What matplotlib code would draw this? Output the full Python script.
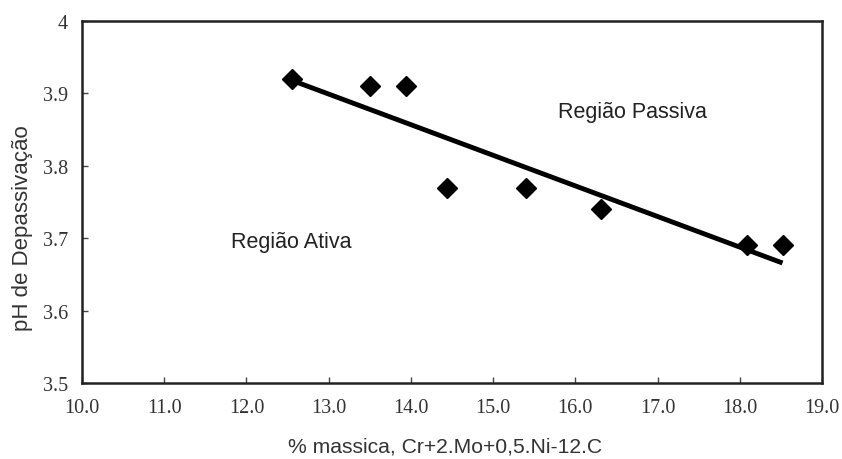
import numpy as np
import matplotlib
matplotlib.use("Agg")
import matplotlib.pyplot as plt

x_vals = [12.55, 13.50, 13.94, 14.44, 15.40, 16.31, 18.09, 18.52]
ph_vals = [3.92, 3.91, 3.91, 3.77, 3.77, 3.74, 3.69, 3.69]
x_ticks = [10.0, 11.0, 12.0, 13.0, 14.0, 15.0, 16.0, 17.0, 18.0, 19.0]
y_ticks = [3.5, 3.6, 3.7, 3.8, 3.9, 4.0]
y_tick_labels = ["3.5", "3.6", "3.7", "3.8", "3.9", "4"]

fig = plt.figure(figsize=(8.42, 4.6), dpi=100)
ax = fig.add_axes([82/842, 1-384/460, (822-82)/842, (384-22)/460])

coef = np.polyfit(x_vals, ph_vals, 1)
xl = np.array([min(x_vals), max(x_vals)])
ax.plot(xl, np.polyval(coef, xl), color="black", lw=3.5, solid_capstyle="butt")
ax.plot(x_vals, ph_vals, linestyle="none", marker="D", color="black", markersize=10.5)

ax.set_xlim(10, 19)
ax.set_ylim(3.5, 4.0)
ax.set_xticks(x_ticks)
ax.set_xticklabels([f"{v:.1f}" for v in x_ticks], family="Liberation Serif", fontsize=14.5)
ax.set_yticks(y_ticks)
ax.set_yticklabels(y_tick_labels, family="Liberation Serif", fontsize=14.5)
ax.tick_params(direction="in", length=4, width=1, colors="#444444", labelcolor="#333333")
ax.tick_params(axis="x", pad=11)
ax.tick_params(axis="y", pad=10)
for s in ax.spines.values():
    s.set_linewidth(1.8)
    s.set_color("#222222")

ax.set_xlabel("% massica, Cr+2.Mo+0,5.Ni-12.C", family="Liberation Sans", fontsize=15.2, color="#333333")
ax.set_ylabel("pH de Depassivação", family="Liberation Sans", fontsize=16, color="#333333")
ax.xaxis.set_label_coords(0.49, -0.148)
ax.yaxis.set_label_coords(-0.066, 0.43)

ax.text(16.7, 3.875, "Região Passiva", family="Liberation Sans", fontsize=15.5, ha="center", va="center", color="#222222")
ax.text(12.54, 3.696, "Região Ativa", family="Liberation Sans", fontsize=15.5, ha="center", va="center", color="#222222")

fig.savefig("out.png", dpi=100)
